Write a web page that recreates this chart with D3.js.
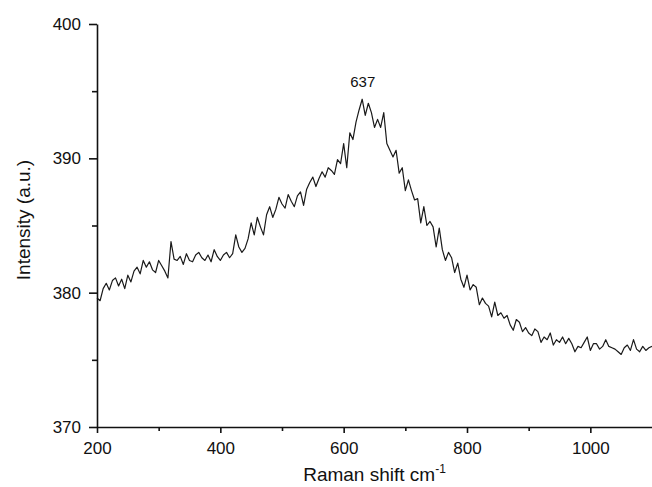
<!DOCTYPE html>
<html lang="en">
<head>
    <meta charset="UTF-8">
    <title>raman_spectrum</title>
    <script src="https://cdn.jsdelivr.net/npm/d3@7"></script>
    <style>
        body { margin: 0; background: #fff; }
        text { font-family: "Liberation Sans", Arial, sans-serif; fill: #111; }
    </style>
</head>
<body>
    <svg width="652" height="487" id="mainsvg"></svg>

    <script>
        // Raman shift (cm-1) sampling and intensity
        const shifts = [
            200,205,210,215,220,225,230,235,240,245,250,255,260,265,270,275,280,285,290,295,
            300,305,310,315,320,325,330,335,340,345,350,355,360,365,370,375,380,385,390,395,
            400,405,410,415,420,425,430,435,440,445,450,455,460,465,470,475,480,485,490,495,
            500,505,510,515,520,525,530,535,540,545,550,555,560,565,570,575,580,585,590,595,
            600,605,610,615,620,625,630,635,640,645,650,655,660,665,670,675,680,685,690,695,
            700,705,710,715,720,725,730,735,740,745,750,755,760,765,770,775,780,785,790,795,
            800,805,810,815,820,825,830,835,840,845,850,855,860,865,870,875,880,885,890,895,
            900,905,910,915,920,925,930,935,940,945,950,955,960,965,970,975,980,985,990,995,
            1000,1005,1010,1015,1020,1025,1030,1035,1040,1045,1050,1055,1060,1065,1070,1075,1080,1085,1090,1095,
            1100
        ];
        const intensity = [
            379.6,379.4,380.3,380.7,380.2,380.9,381.1,380.5,381.0,380.3,381.3,380.8,381.6,381.9,381.4,382.4,381.9,382.3,381.7,381.5,
            382.4,382.0,381.6,381.1,383.8,382.5,382.4,382.7,382.1,382.9,382.4,382.3,382.8,383.0,382.6,382.4,382.8,382.3,383.2,382.7,
            382.4,382.8,383.0,382.6,382.9,384.3,383.4,383.0,383.3,384.0,385.2,384.3,385.6,384.9,384.3,385.8,386.4,385.6,386.2,387.1,
            386.6,386.3,387.3,386.8,386.4,387.2,387.5,386.5,387.7,388.2,388.6,387.9,388.5,389.0,388.6,389.3,389.1,388.8,389.9,389.6,
            391.1,389.3,391.9,391.4,392.7,393.6,394.4,393.2,394.1,393.4,392.3,392.9,392.3,393.4,391.1,390.6,390.1,390.6,388.9,389.3,
            387.6,388.4,387.6,386.9,387.0,385.2,386.4,385.0,385.3,384.9,383.4,384.8,383.2,382.4,383.0,382.6,381.5,382.2,381.0,380.4,
            381.3,380.2,380.6,380.4,379.1,379.6,379.2,379.0,378.2,379.3,378.3,378.5,378.1,378.3,377.6,377.2,378.0,377.8,377.1,377.4,
            377.0,376.8,377.3,377.1,376.3,376.7,376.5,377.0,376.1,376.5,376.3,376.7,376.2,376.6,376.2,375.6,376.0,375.9,376.3,376.7,
            375.7,376.2,376.2,375.8,376.0,376.5,376.0,375.9,375.8,375.6,375.4,375.9,376.1,375.7,376.5,375.8,375.6,376.0,375.7,375.9,
            376.0
        ];
        const xTicks = [200, 400, 600, 800, 1000];
        const xMinorTicks = [300, 500, 700, 900];
        const yTicks = [370, 380, 390, 400];
        const yMinorTicks = [375, 385, 395];
        const peakShift = 631;
        const peakLabel = '637';

        const svg = d3.select('svg');
        const width = +svg.attr('width');
        const height = +svg.attr('height');
        const margin = {top: 24, right: 0, bottom: 60, left: 97};
        const innerWidth = width - margin.left - margin.right;
        const innerHeight = height - margin.top - margin.bottom;
        const mainGroup = svg.append('g')
            .attr('transform', `translate(${margin.left}, ${margin.top})`);

        const xScale = d3.scaleLinear().domain([200, 1100]).range([0, innerWidth]);
        const yScale = d3.scaleLinear().domain([370, 400]).range([innerHeight, 0]);

        const data = shifts.map((s, i) => ({shift: s, value: intensity[i]}));

        // spectrum
        const line = d3.line()
            .x(d => xScale(d.shift))
            .y(d => yScale(d.value));
        mainGroup.append('path')
            .datum(data)
            .attr('fill', 'none')
            .attr('stroke', '#1a1a1a')
            .attr('stroke-width', 1.2)
            .attr('stroke-linejoin', 'round')
            .attr('d', line);

        // minor ticks first, then the labelled axes on top
        mainGroup.append('g')
            .attr('transform', `translate(0, ${innerHeight})`)
            .call(d3.axisBottom(xScale).tickValues(xMinorTicks).tickSize(4).tickFormat(''))
            .call(g => g.select('.domain').remove());
        mainGroup.append('g')
            .call(d3.axisLeft(yScale).tickValues(yMinorTicks).tickSize(5).tickFormat(''))
            .call(g => g.select('.domain').remove());

        const xAxisGroup = mainGroup.append('g')
            .attr('transform', `translate(0, ${innerHeight})`)
            .call(d3.axisBottom(xScale).tickValues(xTicks).tickFormat(d3.format('d'))
                .tickSize(6).tickSizeOuter(0).tickPadding(9));
        const yAxisGroup = mainGroup.append('g')
            .call(d3.axisLeft(yScale).tickValues(yTicks).tickFormat(d3.format('d'))
                .tickSize(8).tickSizeOuter(0).tickPadding(8));

        mainGroup.selectAll('.domain, .tick line')
            .attr('stroke', '#111')
            .attr('stroke-width', 1.6);
        mainGroup.selectAll('.tick text')
            .attr('font-size', '17px')
            .attr('font-family', '"Liberation Sans", Arial, sans-serif')
            .attr('fill', '#111');

        // axis titles
        const xTitle = svg.append('text')
            .attr('x', margin.left + innerWidth / 2)
            .attr('y', 481)
            .attr('text-anchor', 'middle')
            .attr('font-size', '19px');
        xTitle.append('tspan').text('Raman shift cm');
        xTitle.append('tspan').text('-1')
            .attr('font-size', '12px')
            .attr('dy', '-8');

        svg.append('text')
            .attr('transform', `translate(30, 220) rotate(-90)`)
            .attr('text-anchor', 'middle')
            .attr('font-size', '19px')
            .text('Intensity (a.u.)');

        // peak annotation
        mainGroup.append('text')
            .attr('x', xScale(peakShift))
            .attr('y', 87 - margin.top)
            .attr('text-anchor', 'middle')
            .attr('font-size', '15px')
            .text(peakLabel);
    </script>
</body>
</html>
